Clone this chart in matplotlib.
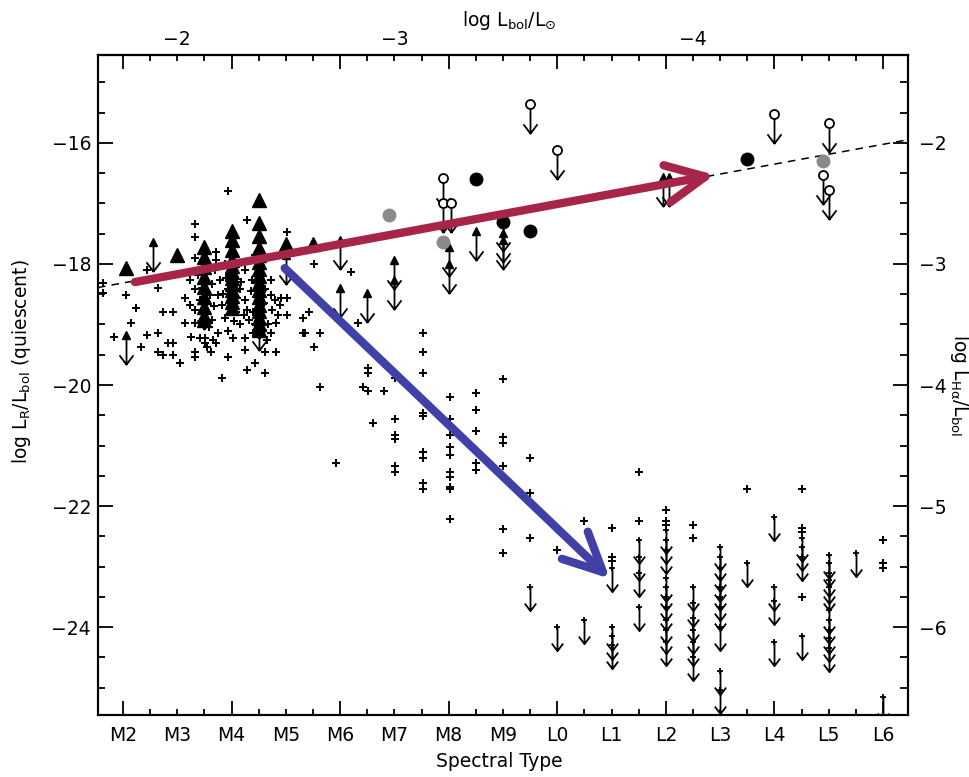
import numpy as np
import matplotlib
matplotlib.use('Agg')
import matplotlib.pyplot as plt
from matplotlib.path import Path
from matplotlib.ticker import FixedLocator, MultipleLocator, FuncFormatter

plt.rcParams['font.family'] = ['DejaVu Sans']
plt.rcParams['mathtext.default'] = 'regular'

# spectral type index: M2 = 2 ... M9 = 9, L0 = 10 ... L6 = 16
sptype_pos = list(range(2, 17))
sptype_names = ['M2', 'M3', 'M4', 'M5', 'M6', 'M7', 'M8', 'M9',
                'L0', 'L1', 'L2', 'L3', 'L4', 'L5', 'L6']
# top axis: log Lbol/Lsun at these spectral types
lbol_pos = [3, 7, 12.5]
lbol_names = ['\u22122', '\u22123', '\u22124']

# H-alpha detections (spectral type, log LHa/Lbol)  -> right axis
ha_det = np.array([
    (1.63, -3.16), (1.63, -3.24), (2.06, -3.26), (2.24, -3.36), (2.15, -3.49), (1.83, -3.60),
    (2.44, -3.05), (2.33, -3.69), (2.44, -3.59), (2.64, -3.57), (2.64, -3.73), (2.74, -3.75),
    (2.83, -3.65), (2.93, -3.65), (2.93, -3.75), (3.05, -3.82), (2.74, -3.40), (2.93, -3.40),
    (2.64, -3.20), (3.14, -3.49), (3.25, -3.60), (3.33, -3.49), (3.33, -2.67), (3.33, -2.78),
    (3.33, -2.95), (3.33, -3.73), (3.33, -3.77), (3.52, -3.61), (3.52, -3.65), (3.63, -3.73),
    (3.72, -3.65), (3.42, -3.61), (3.55, -3.69), (3.66, -3.63), (3.75, -3.57), (3.93, -3.77),
    (4.03, -3.61), (4.25, -3.61), (4.25, -3.71), (4.39, -3.57), (4.66, -3.63), (4.62, -3.73),
    (4.82, -3.73), (4.43, -3.82), (4.62, -3.90), (4.29, -3.88), (3.83, -3.94), (4.82, -3.49),
    (5.03, -3.42), (5.03, -3.28), (5.03, -2.74), (5.31, -3.57), (5.42, -3.40), (5.63, -3.57),
    (5.52, -3.69), (5.63, -4.02), (5.52, -3.00), (4.29, -2.64), (3.93, -2.40), (3.72, -2.90),
    (3.72, -2.97), (4.91, -3.28), (5.31, -3.45), (5.35, -3.57), (4.72, -3.57),
    (3.23, -3.13), (3.33, -3.21), (3.42, -3.30), (3.64, -3.17), (3.75, -3.26), (3.83, -3.34),
    (3.88, -3.45), (4.15, -3.21), (4.25, -3.30), (4.29, -3.38), (4.33, -3.46), (4.38, -3.13),
    (4.72, -3.26), (4.75, -3.38), (4.80, -3.30), (4.67, -3.50), (4.89, -3.34), (3.70, -3.05),
    (4.25, -3.05), (4.43, -2.93), (3.88, -3.00), (3.23, -3.34), (3.14, -3.28), (3.33, -3.38),
    (4.15, -3.50), (3.93, -3.55), (3.64, -3.46), (3.38, -3.09), (4.72, -3.13), (4.85, -3.42),
    (4.00, -3.30), (4.08, -3.40), (4.48, -3.30), (4.56, -3.40), (4.62, -3.21), (3.79, -3.13),
    (3.60, -3.26), (3.51, -3.38), (3.93, -3.21), (4.43, -3.50), (4.23, -3.42),
    (3.45, -3.20), (3.68, -3.35), (3.90, -3.12), (4.10, -3.28), (4.35, -3.22), (4.60, -3.32),
    (4.40, -3.40), (4.18, -3.15), (3.85, -3.25), (4.05, -3.47), (4.52, -3.48), (3.58, -3.52),
    (6.20, -3.07), (6.33, -3.49), (6.51, -3.86), (6.51, -3.90), (6.43, -4.02), (6.51, -4.05),
    (6.81, -4.05), (6.60, -4.31), (5.93, -4.64),
    (7.02, -3.94), (7.02, -4.28), (7.02, -4.41), (7.02, -4.45), (7.02, -4.67), (7.02, -4.72),
    (7.52, -3.57), (7.52, -3.73), (7.52, -3.90), (7.52, -4.23), (7.52, -4.26), (7.52, -4.55),
    (7.52, -4.60), (7.52, -4.81), (7.52, -4.86),
    (8.02, -4.10), (8.02, -4.28), (8.02, -4.41), (8.02, -4.51), (8.02, -4.58), (8.02, -4.72),
    (8.02, -4.76), (8.02, -4.84), (8.02, -4.86), (8.02, -5.11),
    (8.51, -4.07), (8.51, -4.21), (8.51, -4.38), (8.51, -4.64), (8.51, -4.70),
    (9.0, -3.95), (9.0, -4.43), (9.0, -4.48), (9.0, -4.67), (9.0, -5.19), (9.0, -5.39),
    (9.5, -4.60), (9.5, -4.89), (9.5, -5.26),
    (10.0, -5.36), (10.5, -5.12), (11.0, -5.18), (11.0, -5.42), (11.0, -5.45),
    (11.5, -4.72), (11.5, -5.12), (12.0, -5.03), (12.0, -5.12), (12.0, -5.16),
    (12.5, -5.16), (12.5, -5.26), (13.5, -4.86),
    (14.5, -4.86), (14.5, -5.18), (14.5, -5.21), (14.5, -5.75),
    (16.0, -5.28), (16.0, -5.47), (16.0, -5.51),
])

# H-alpha upper limits (spectral type, log LHa/Lbol)
ha_lim = np.array([
    (9.5, -5.67), (10.0, -6.00), (10.5, -5.94),
    (11.0, -5.51), (11.0, -6.00), (11.0, -6.07), (11.0, -6.15),
    (11.5, -5.28), (11.5, -5.42), (11.5, -5.55), (11.5, -5.83),
    (12.0, -5.20), (12.0, -5.28), (12.0, -5.36), (12.0, -5.59), (12.0, -5.67),
    (12.0, -5.75), (12.0, -5.83), (12.0, -5.94), (12.0, -6.02), (12.0, -6.12),
    (12.5, -5.67), (12.5, -5.80), (12.5, -5.92), (12.5, -6.02), (12.5, -6.12), (12.5, -6.25),
    (13.0, -5.34), (13.0, -5.42), (13.0, -5.51), (13.0, -5.59), (13.0, -5.67),
    (13.0, -5.75), (13.0, -5.83), (13.0, -6.00), (13.0, -6.36), (13.0, -6.52),
    (13.5, -5.47),
    (14.0, -5.09), (14.0, -5.67), (14.0, -5.78), (14.0, -6.12),
    (14.5, -5.26), (14.5, -5.34), (14.5, -5.42), (14.5, -6.07),
    (15.0, -5.40), (15.0, -5.47), (15.0, -5.55), (15.0, -5.61), (15.0, -5.67),
    (15.0, -5.86), (15.0, -5.94), (15.0, -6.02), (15.0, -6.09), (15.0, -6.17),
    (15.5, -5.39), (16.0, -6.58),
])

# radio detections, M dwarfs (spectral type, log LR/Lbol)
radio_tri = np.array([
    (2.05, -18.07), (3.0, -17.85),
    (3.5, -17.72), (3.5, -17.88), (3.5, -18.05), (3.5, -18.21), (3.5, -18.38),
    (3.5, -18.55), (3.5, -18.71), (3.5, -18.86), (3.5, -18.93),
    (4.0, -17.45), (4.0, -17.60), (4.0, -17.77), (4.0, -17.93), (4.0, -18.03),
    (4.0, -18.13), (4.0, -18.23), (4.0, -18.33), (4.0, -18.43), (4.0, -18.53),
    (4.0, -18.63), (4.0, -18.73),
    (4.5, -16.94), (4.5, -17.32), (4.5, -17.54), (4.5, -17.74), (4.5, -17.85),
    (4.5, -17.97), (4.5, -18.08), (4.5, -18.20), (4.5, -18.31), (4.5, -18.43),
    (4.5, -18.55), (4.5, -18.68), (4.5, -18.78), (4.5, -18.89), (4.5, -18.99), (4.5, -19.09),
    (5.0, -17.67), (5.5, -17.67),
])
# radio upper limits
radio_lim = np.array([
    (2.06, -19.17), (2.55, -17.64), (3.5, -18.60), (4.5, -18.75), (4.5, -18.95),
    (5.0, -17.85), (6.0, -17.60), (6.0, -18.40), (6.5, -18.48), (7.0, -17.93),
    (7.0, -18.26), (8.0, -17.72), (8.0, -18.00), (8.5, -17.46), (9.0, -17.31),
    (9.0, -17.49), (9.0, -17.60), (11.95, -16.56), (12.05, -16.56),
])
# radio upper limits, ultracool sample (open circles)
radio_lim_uc = np.array([
    (7.9, -16.58), (7.9, -16.99), (8.05, -16.99), (9.5, -15.36), (10.0, -16.12),
    (14.0, -15.52), (15.0, -15.67), (14.9, -16.53), (15.0, -16.78),
])
# radio detections, ultracool sample
radio_det_uc = np.array([(8.5, -16.60), (9.0, -17.31), (9.5, -17.45), (13.5, -16.26)])
radio_flare_uc = np.array([(6.9, -17.19), (7.9, -17.64), (14.9, -16.30)])

# dashed relation (ends at plot edges)
fit_st = [1.54, 16.46]
fit_lr = [-18.39, -15.95]

# hand-drawn trend arrows (start, end) in (spectral type, log LR/Lbol)
radio_trend = [(2.22, -18.30), (12.9, -16.53)]
ha_trend = [(4.98, -18.07), (10.97, -23.2)]

limit_arrow = Path([(0, 0), (0, -1), (-0.24, -0.68), (0, -1), (0.24, -0.68)],
                   [Path.MOVETO, Path.LINETO, Path.MOVETO, Path.LINETO, Path.LINETO])

fig = plt.figure(figsize=(9.69, 7.77), dpi=100)
ax = fig.add_axes([0.1011, 0.0798, 0.8359, 0.8494])
ax2 = ax.twinx()

lr_lim = (-25.45, -14.55)
ax.set_xlim(1.54, 16.46)
ax.set_ylim(*lr_lim)
# log LHa/Lbol = log LR/Lbol / 2 + 6
ax2.set_ylim(lr_lim[0] / 2 + 6, lr_lim[1] / 2 + 6)

ax.plot(fit_st, fit_lr, color='k', lw=1.1, ls=(0, (5, 4)))

ax.plot(*radio_tri.T, ls='none', marker='^', ms=9.5, color='k')
ax.plot(*radio_lim.T, ls='none', marker=limit_arrow, ms=42, mfc='none', mec='k', mew=1.3)
ax.plot(*radio_lim.T, ls='none', marker='^', ms=6, color='k')
ax.plot(*radio_lim_uc.T, ls='none', marker=limit_arrow, ms=42, mfc='none', mec='k', mew=1.3)
ax.plot(*radio_lim_uc.T, ls='none', marker='o', ms=6.5, mfc='white', mec='k', mew=1.3)
ax.plot(*radio_det_uc.T, ls='none', marker='o', ms=9, color='k')
ax.plot(*radio_flare_uc.T, ls='none', marker='o', ms=9, color='#8a8a8a')

ax2.plot(*ha_det.T, ls='none', marker='+', ms=6, mew=1.4, color='k')
ax2.plot(*ha_lim.T, ls='none', marker=limit_arrow, ms=34, mfc='none', mec='k', mew=1.3)
ax2.plot(*ha_lim.T, ls='none', marker='+', ms=5, mew=1.3, color='k')

for (start, end), col in [(radio_trend, '#a8254a'), (ha_trend, '#4040a6')]:
    ax2.annotate('', xy=end, xytext=start, xycoords=ax.transData, textcoords=ax.transData,
                 arrowprops=dict(arrowstyle='->,head_length=2.8,head_width=1.35',
                                 mutation_scale=10, lw=6, color=col,
                                 shrinkA=0, shrinkB=0, capstyle='round', joinstyle='round'),
                 zorder=10)

# bottom axis: spectral types
names = dict(zip(sptype_pos, sptype_names))
def sptype_fmt(x, pos):
    i = int(round(x))
    return names.get(i, '') if abs(x - i) < 1e-6 else ''

ax.xaxis.set_major_locator(FixedLocator(np.arange(2, 17, 2)))
ax.xaxis.set_minor_locator(FixedLocator(np.arange(2, 16.6, 0.5)))
ax.xaxis.set_major_formatter(FuncFormatter(sptype_fmt))
ax.xaxis.set_minor_formatter(FuncFormatter(sptype_fmt))
ax.yaxis.set_major_locator(MultipleLocator(2))
ax.yaxis.set_minor_locator(MultipleLocator(0.5))
ax2.yaxis.set_major_locator(MultipleLocator(1))
ax2.yaxis.set_minor_locator(MultipleLocator(0.25))

ax.tick_params(axis='x', which='both', direction='in', width=1.3, pad=8, labelsize=13.5)
ax.tick_params(axis='x', which='major', length=10)
ax.tick_params(axis='x', which='minor', length=4.5)
ax.tick_params(axis='y', which='both', direction='in', width=1.3, pad=5, labelsize=13.5)
ax.tick_params(axis='y', which='major', length=10.5)
ax.tick_params(axis='y', which='minor', length=5)
ax2.tick_params(axis='y', which='both', direction='in', width=1.3, pad=8, labelsize=13.5)
ax2.tick_params(axis='y', which='major', length=10.5)
ax2.tick_params(axis='y', which='minor', length=5.5)

# top axis: log Lbol/Lsun
top = ax.secondary_xaxis('top')
lbol = dict(zip(lbol_pos, lbol_names))
top.xaxis.set_major_locator(FixedLocator(np.arange(2, 17, 2)))
top.xaxis.set_minor_locator(FixedLocator(np.arange(2, 16.6, 0.5)))
top.xaxis.set_major_formatter(FuncFormatter(lambda x, p: lbol.get(x, '')))
top.xaxis.set_minor_formatter(FuncFormatter(lambda x, p: lbol.get(x, '')))
top.tick_params(axis='x', which='both', direction='in', width=1.3, pad=4, labelsize=13.5)
top.tick_params(axis='x', which='major', length=10)
top.tick_params(axis='x', which='minor', length=4.5)

for a in (ax, ax2, top):
    for s in a.spines.values():
        s.set_linewidth(1.5)

ax.set_xlabel('Spectral Type', fontsize=13.5)
ax.xaxis.set_label_coords(0.496, -0.056)
ax.set_ylabel(r'log L$_{R}$/L$_{bol}$ (quiescent)', fontsize=13.5)
ax.yaxis.set_label_coords(-0.08, 0.535)
fig.text(0.525, 0.974, r'log L$_{bol}$/L$_{\odot}$', fontsize=13.5, ha='center', va='center')
fig.text(0.99, 0.505, r'log L$_{H\alpha}$/L$_{bol}$', fontsize=13.5, ha='center', va='center',
         rotation=270)

fig.savefig('out.png', dpi=100)
